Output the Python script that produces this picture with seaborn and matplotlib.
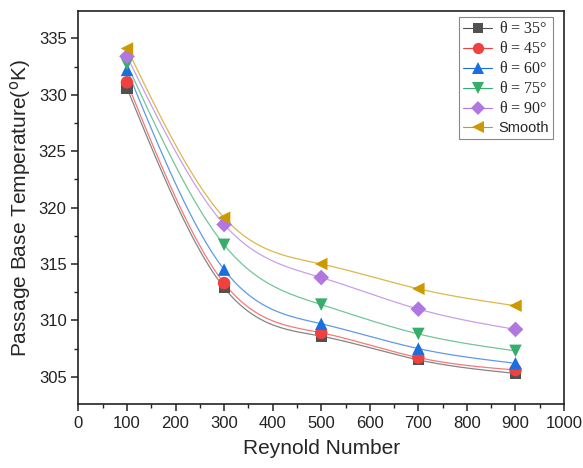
import numpy as np
import pandas as pd
import matplotlib
matplotlib.use("Agg")
import matplotlib.pyplot as plt
from matplotlib.ticker import MultipleLocator
import seaborn as sns

# Reynolds numbers tested
reynolds = [100, 300, 500, 700, 900]

# Passage base temperature (K) for each rib angle and the smooth channel
temp_35 = [330.6, 312.9, 308.6, 306.5, 305.3]
temp_45 = [331.1, 313.3, 308.9, 306.7, 305.6]
temp_60 = [332.2, 314.5, 309.7, 307.5, 306.2]
temp_75 = [332.7, 316.7, 311.4, 308.8, 307.3]
temp_90 = [333.4, 318.5, 313.8, 311.0, 309.2]
temp_smooth = [334.1, 319.1, 315.0, 312.8, 311.3]

series_labels = [r"$\theta$ = 35°", r"$\theta$ = 45°", r"$\theta$ = 60°",
                 r"$\theta$ = 75°", r"$\theta$ = 90°", "Smooth"]
series_values = [temp_35, temp_45, temp_60, temp_75, temp_90, temp_smooth]

colors = ["#515151", "#F14040", "#1A6FDF", "#37AD6B", "#B177DE", "#CC9900"]
markers = ["s", "o", "^", "v", "D", "<"]
marker_sizes = [8, 9, 9, 9, 8, 9]


def natural_spline(x, y, n=200):
    """Natural cubic spline through (x, y), sampled on n points."""
    x = np.asarray(x, float)
    y = np.asarray(y, float)
    k = len(x)
    h = np.diff(x)
    A = np.zeros((k, k))
    b = np.zeros(k)
    A[0, 0] = A[-1, -1] = 1.0
    for i in range(1, k - 1):
        A[i, i - 1] = h[i - 1]
        A[i, i] = 2 * (h[i - 1] + h[i])
        A[i, i + 1] = h[i]
        b[i] = 3 * ((y[i + 1] - y[i]) / h[i] - (y[i] - y[i - 1]) / h[i - 1])
    c = np.linalg.solve(A, b)
    xs = np.linspace(x[0], x[-1], n)
    idx = np.clip(np.searchsorted(x, xs) - 1, 0, k - 2)
    dx = xs - x[idx]
    bb = (y[1:] - y[:-1]) / h - h * (2 * c[:-1] + c[1:]) / 3
    d = (c[1:] - c[:-1]) / (3 * h)
    ys = y[idx] + bb[idx] * dx + c[idx] * dx ** 2 + d[idx] * dx ** 3
    return xs, ys


sns.set_theme(style="ticks")
plt.rcParams["font.family"] = ["Liberation Sans", "DejaVu Sans"]
plt.rcParams["mathtext.fontset"] = "custom"
plt.rcParams["mathtext.rm"] = "Liberation Serif"
plt.rcParams["mathtext.it"] = "Liberation Serif"

fig = plt.figure(figsize=(5.83, 4.68), dpi=100)
ax = fig.add_axes([0.1345, 0.137, 0.833, 0.839])

points = pd.DataFrame({
    "Re": np.tile(reynolds, len(series_labels)),
    "T": np.concatenate(series_values),
    "series": np.repeat(series_labels, len(reynolds)),
})

curves = []
for lab, vals in zip(series_labels, series_values):
    xs, ys = natural_spline(reynolds, vals)
    curves.append(pd.DataFrame({"Re": xs, "T": ys, "series": lab}))
curves = pd.concat(curves, ignore_index=True)

palette = dict(zip(series_labels, colors))
sns.lineplot(data=curves, x="Re", y="T", hue="series", palette=palette,
             hue_order=series_labels, lw=0.9, alpha=0.7, legend=False,
             estimator=None, sort=False, ax=ax)

for lab, vals, col, mk, ms in zip(series_labels, series_values, colors,
                                  markers, marker_sizes):
    sub = points[points["series"] == lab]
    sns.scatterplot(data=sub, x="Re", y="T", color=col, marker=mk,
                    s=ms ** 2, edgecolor="none", ax=ax, zorder=3, legend=False)

# Legend handles combine line and marker
handles = [plt.Line2D([], [], color=c, marker=m, markersize=ms * 0.9,
                      lw=0.8, markeredgewidth=0)
           for c, m, ms in zip(colors, markers, marker_sizes)]
leg = ax.legend(handles, series_labels, loc="upper right",
                bbox_to_anchor=(0.977, 0.985), frameon=True, fancybox=False,
                edgecolor="#888888", framealpha=1, fontsize=10.5,
                handlelength=2.0, handletextpad=0.45, borderpad=0.25,
                labelspacing=0.28, borderaxespad=0.0)
leg.get_frame().set_linewidth(0.8)
for t in leg.get_texts()[:-1]:
    t.set_fontfamily("Liberation Serif")
    t.set_fontsize(11.5)

ax.set_xlim(0, 1000)
ax.set_ylim(302.6, 337.4)
ax.xaxis.set_major_locator(MultipleLocator(100))
ax.xaxis.set_minor_locator(MultipleLocator(50))
ax.yaxis.set_major_locator(MultipleLocator(5))
ax.yaxis.set_minor_locator(MultipleLocator(2.5))

ax.tick_params(which="major", direction="out", length=5, width=1.1,
               labelsize=12, colors="#222222", labelcolor="#222222")
ax.tick_params(which="minor", direction="out", length=3, width=1.0,
               colors="#222222")
ax.tick_params(top=False, right=False, which="both")
for sp in ax.spines.values():
    sp.set_linewidth(1.2)
    sp.set_color("#222222")

ax.set_xlabel("Reynold Number", fontsize=15, labelpad=6)
ax.set_ylabel("Passage Base Temperature($^{\\mathsf{o}}$K)", fontsize=15,
              labelpad=4)

fig.savefig("out.png", dpi=100, facecolor="white")
